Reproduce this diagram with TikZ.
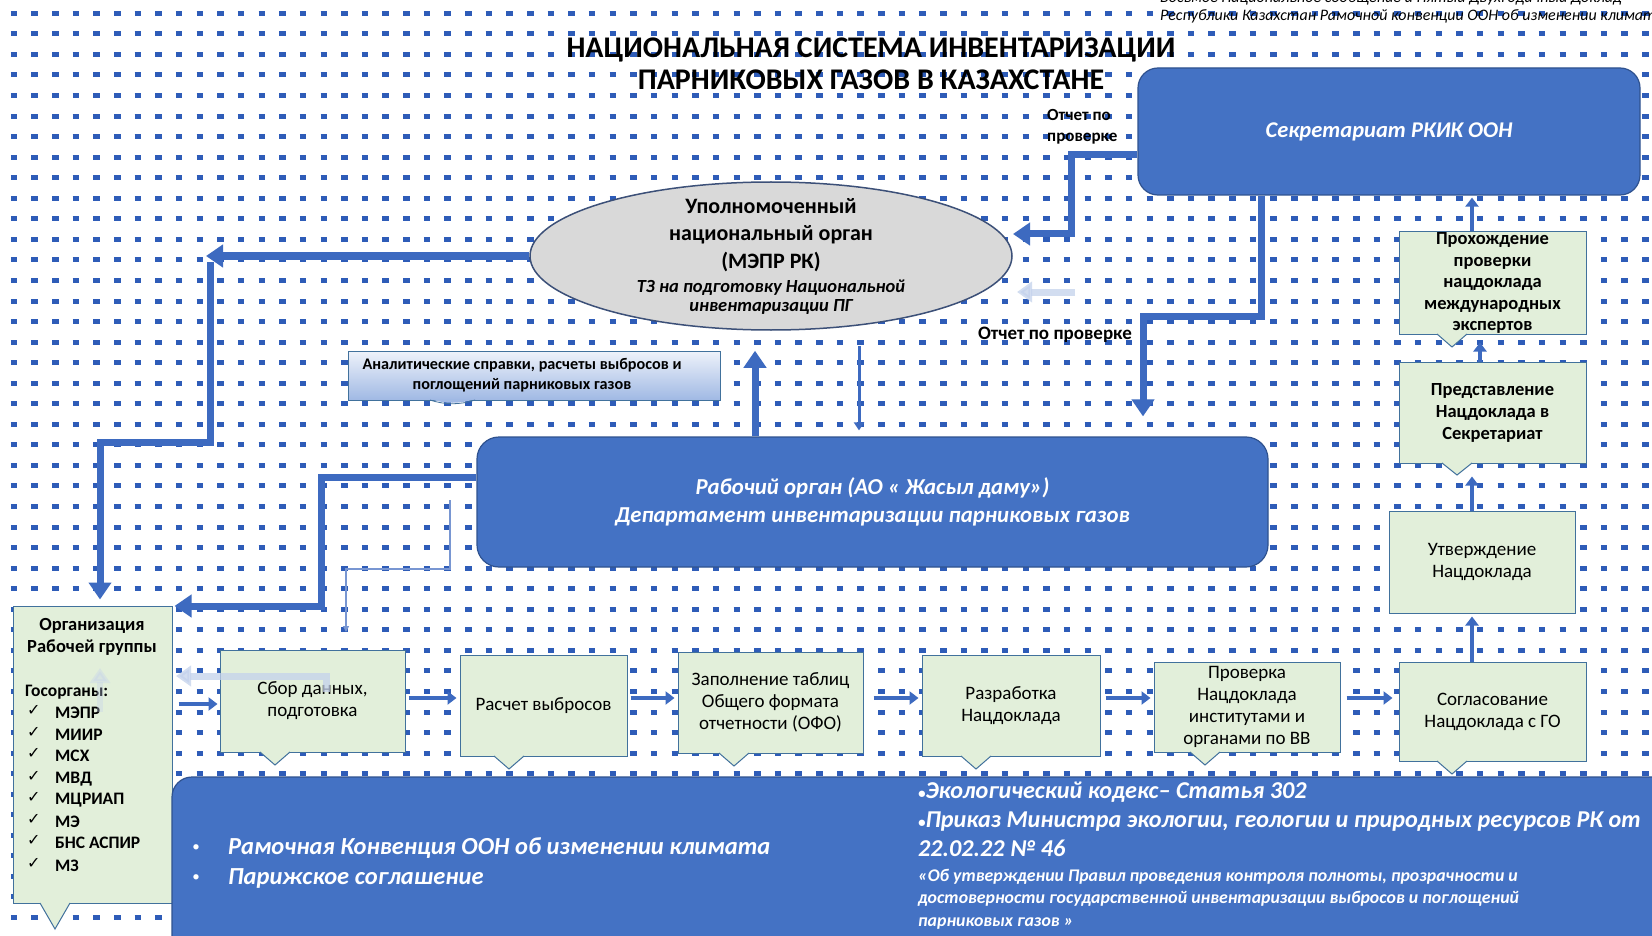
\documentclass[tikz,border=0pt]{standalone}
\usepackage{fontspec}
\setmainfont{Carlito}
\newfontfamily\dejavu{DejaVu Sans}
\usetikzlibrary{shapes.geometric,arrows.meta}
\definecolor{dotc}{RGB}{46,92,184}
\definecolor{bluef}{RGB}{68,114,196}
\definecolor{blueb}{RGB}{47,82,143}
\definecolor{greenf}{RGB}{226,239,218}
\definecolor{greenb}{RGB}{65,113,156}
\definecolor{ellf}{RGB}{217,217,217}
\definecolor{ellb}{RGB}{60,80,120}
\definecolor{arrc}{RGB}{61,106,192}
\definecolor{ghostc}{RGB}{196,210,236}
\definecolor{anatop}{RGB}{238,242,250}
\definecolor{anabot}{RGB}{160,185,228}
\definecolor{thinc}{RGB}{120,150,210}
\newcommand\fs[2]{\fontsize{#1}{#2}\selectfont}
\newcommand\smb{{\fs{15}{15}\textbullet}}
\newcommand\mknotch[4]{%
  \fill[greenf] (#1-#3,#2-1.5) -- (#1-#3,#2) -- (#1,#2+#4) -- (#1+#3,#2) -- (#1+#3,#2-1.5) -- cycle;
  \draw[greenb, line width=1pt] (#1-#3,#2) -- (#1,#2+#4) -- (#1+#3,#2);}
\tikzset{
  bluebox/.style={draw=blueb, line width=1.2pt, fill=bluef, rounded corners=18pt, text=white, align=center, inner sep=0pt},
  greenbox/.style={draw=greenb, line width=1pt, fill=greenf, align=center, inner sep=0pt, font=\fs{19}{22}},
  bigarrow/.style={draw=arrc, line width=7pt, -{Triangle[width=22pt,length=17pt]}},
  midarrow/.style={draw=arrc, line width=4.5pt, -{Triangle[width=13pt,length=9pt]}},
  ghostarrow/.style={draw=ghostc, line width=7pt, -{Triangle[width=20pt,length=15pt]}, opacity=0.75},
  thinarrow/.style={draw=thinc, line width=1.5pt, -{Triangle[width=6pt,length=6pt]}},
}
\begin{document}
\begin{tikzpicture}[x=1pt,y=-1pt]
\path[use as bounding box] (0,0) rectangle (1652,936);
\clip (0,0) rectangle (1652,936);
\fill[white] (0,0) rectangle (1652,936);
% dot grid
\foreach \j in {0,...,44}{
  \draw[dotc, line width=5pt, dash pattern=on 6.5pt off 14.15pt] (10.75,{13.3+20.55*\j}) -- (1660,{13.3+20.55*\j});
}
% helper coordinates
\coordinate (y155) at (0,155);
\coordinate (y477) at (0,477);
\coordinate (y606) at (0,606);
\coordinate (y704) at (0,704);
\coordinate (hy) at (0,698);
\coordinate (x755) at (755,0);
\coordinate (x859) at (859,0);
\coordinate (x1261) at (1261,0);
\coordinate (x1143) at (1143,0);
\coordinate (x1472) at (1472,0);
\coordinate (x1480) at (1480,0);
\coordinate (x100) at (100,0);

% header
\node[anchor=west, font=\itshape\fs{16}{18}, align=left, inner sep=0pt] (hdr) at (1160,7)
  {Восьмое Национальное сообщение и Пятый Двухгодичный Доклад\\Республики Казахстан Рамочной конвенции ООН об изменении климата};
% title
\node[font=\bfseries\fs{30}{32}, align=center, inner sep=0pt] (title) at (871,64)
  {НАЦИОНАЛЬНАЯ СИСТЕМА ИНВЕНТАРИЗАЦИИ\\ПАРНИКОВЫХ ГАЗОВ В КАЗАХСТАНЕ};

% Secretariat
\node[bluebox, rounded corners=20pt, minimum width=502pt, minimum height=127pt, font=\bfseries\itshape\fs{22.5}{25}] (sec) at (1389,131.5) {Секретариат РКИК ООН};

% Ellipse
\node[ellipse, draw=ellb, line width=1.5pt, fill=ellf, minimum width=482pt, minimum height=148pt, inner sep=0pt] (mepr) at (771,256) {};
\node[font=\bfseries\fs{22}{27.5}, align=center, inner sep=0pt] (meprt) at (771,235) {Уполномоченный\\национальный орган\\(МЭПР РК)};
\node[font=\bfseries\itshape\fs{18.5}{19.5}, align=center, inner sep=0pt] (meprs) at (771,297) {ТЗ на подготовку Национальной\\инвентаризации ПГ};

% Labels
\node[font=\bfseries\fs{17}{21}, inner sep=0pt, align=left, anchor=west] (rep1) at (1047,127) {Отчет по\\проверке};
\node[font=\bfseries\fs{19}{20}, inner sep=0pt] (rep2) at (1055,335) {Отчет по проверке};

% Working body
\node[bluebox, rounded corners=22pt, minimum width=791pt, minimum height=130pt, font=\bfseries\itshape\fs{22.8}{28}] (rab) at (872.5,502)
  {Рабочий орган (АО « Жасыл даму»)\\Департамент инвентаризации парниковых газов};

% Analytic box
\node[draw=greenb, line width=0.8pt, top color=anatop, bottom color=anabot, minimum width=372pt, minimum height=49pt, inner sep=0pt] (ana) at (534,375.5) {};
\fill[anabot] (430,399) .. controls (445,404) and (460,404) .. (475,399) -- cycle;
\draw[greenb, line width=0.8pt] (430,400) .. controls (445,405) and (460,405) .. (475,400);
\node[font=\bfseries\fs{16.2}{20}, align=center, inner sep=0pt] (anat) at (522,375.5) {Аналитические справки, расчеты выбросов и\\поглощений парниковых газов};

% Organization box
\node[greenbox, minimum width=159pt, minimum height=297pt] (org) at (92.5,754.5) {};
\mknotch{55}{903}{15}{26}
\node[font=\bfseries\fs{18.5}{22}, align=center, inner sep=0pt] (orgt) at (92,637) {Организация\\Рабочей группы};
\node[font=\bfseries\fs{17.5}{20}, anchor=west, inner sep=0pt] (gos) at (25,692) {Госорганы:};
\foreach \nm/\yy in {МЭПР/713, МИИР/735, МСХ/756, МВД/779, МЦРИАП/800, МЭ/822, БНС АСПИР/843, МЗ/866}{
  \node[font=\dejavu\fs{16}{18}, anchor=west, inner sep=0pt] at (27,\yy-3) {✓};
  \node[font=\bfseries\fs{17.5}{20}, anchor=west, inner sep=0pt] at (55,\yy) {\nm};
}

% process boxes
\node[greenbox, minimum width=185pt, minimum height=102pt] (sbor) at (312.5,701) {Сбор данных,\\подготовка};
\mknotch{275}{752}{15}{13}
\node[greenbox, minimum width=167pt, minimum height=101pt] (raschet) at (543.5,705.5) {Расчет выбросов};
\mknotch{509}{756}{15}{13}
\node[greenbox, minimum width=185pt, minimum height=101pt] (zapoln) at (770.5,702.5) {Заполнение таблиц\\Общего формата\\отчетности (ОФО)};
\mknotch{734}{753}{15}{13}
\node[greenbox, minimum width=178pt, minimum height=101pt] (razrab) at (1011,705.5) {Разработка\\Нацдоклада};
\mknotch{976}{756}{15}{13}
\node[greenbox, minimum width=186pt, minimum height=90pt] (prov) at (1247,707) {Проверка\\Нацдоклада\\институтами и\\органами по ВВ};
\mknotch{1205}{752}{15}{13}
\node[greenbox, minimum width=187pt, minimum height=99pt] (soglas) at (1492.5,711.5) {Согласование\\Нацдоклада с ГО};
\mknotch{1452}{761}{15}{13}
\node[greenbox, minimum width=186pt, minimum height=102pt] (utv) at (1482,562) {Утверждение\\Нацдоклада};
\node[greenbox, minimum width=187pt, minimum height=101pt, font=\bfseries\fs{18.5}{22}] (predst) at (1492.5,412.5) {Представление\\Нацдоклада в\\Секретариат};
\mknotch{1457}{463}{15}{12}
\node[greenbox, minimum width=187pt, minimum height=102pt, font=\bfseries\fs{18.5}{21.5}] (proh) at (1492.5,283) {Прохождение\\проверки\\нацдоклада\\международных\\экспертов};
\mknotch{1452}{334}{15}{13}

% ghost shapes
\draw[ghostarrow] (326,692) -- (326,676) -- (176,676);
\draw[ghostarrow, opacity=0.35, line width=6pt] (100,712) -- (100,668);
\draw[ghostarrow] (1075,292) -- (1017,292);

% bottom legal box
\node[bluebox, rounded corners=20pt, minimum width=1500pt, minimum height=180pt] (law) at (922,867) {};
\node[font=\bfseries\itshape\fs{24.5}{30}, text=white, anchor=west, align=left, inner sep=0pt] (lawl) at (228,863)
  {Рамочная Конвенция ООН об изменении климата\\Парижское соглашение};
\node[text=white, inner sep=0pt] (b1) at (196,848) {\smb};
\node[text=white, inner sep=0pt] (b2) at (196,878) {\smb};
\node[font=\bfseries\itshape\fs{24.2}{29}, text=white, anchor=west, align=left, inner sep=0pt] (lawr) at (918,819)
  {\smb Экологический кодекс– Статья 302\\\smb Приказ Министра экологии, геологии и природных ресурсов РК от\\22.02.22 № 46};
\node[font=\bfseries\itshape\fs{17.8}{22.5}, text=white, anchor=west, align=left, inner sep=0pt] (laws) at (918,899)
  {«Об утверждении Правил проведения контроля полноты, прозрачности и\\достоверности государственной инвентаризации выбросов и поглощений\\парниковых газов »};

% connectors
\draw[bigarrow] (sec.west |- y155) -- (1071,155) -- (1071,234) -- (1013,234);
\draw[bigarrow] (sec.south -| x1261) -- (1261,316) -- (1143,316) -- (rab.north -| x1143) [shorten >=20pt];
\draw[bigarrow, shorten >=20pt] (rab.north -| x755) -- (mepr.south -| x755);
\draw[draw=arrc, line width=3pt, -{Triangle[width=10pt,length=8pt]}, shorten <=15pt, shorten >=6pt] (mepr.south -| x859) -- (rab.north -| x859);
\draw[bigarrow] (mepr.west) -- (206,256);
\draw[bigarrow] (210,262) -- (210,442) -- (100,442) -- (org.north -| x100) [shorten >=6pt];
\draw[bigarrow, shorten >=2pt] (rab.west |- y477) -- (321,477) -- (321,606) -- (org.east |- y606);
\draw[thinarrow] (450,500) -- (450,569) -- (346,569) -- (346,632);
\draw[midarrow, shorten >=2pt, shorten <=6pt] (org.east |- y704) -- (sbor.west |- y704);
\draw[midarrow, shorten <=3pt, shorten >=3pt] (sbor.east |- hy) -- (raschet.west |- hy);
\draw[midarrow, shorten <=3pt, shorten >=3pt] (raschet.east |- hy) -- (zapoln.west |- hy);
\draw[midarrow, shorten <=10pt, shorten >=3pt] (zapoln.east |- hy) -- (razrab.west |- hy);
\draw[midarrow, shorten <=5pt, shorten >=3pt] (razrab.east |- hy) -- (prov.west |- hy);
\draw[midarrow, shorten <=6pt, shorten >=6pt] (prov.east |- hy) -- (soglas.west |- hy);
\draw[midarrow, shorten >=3pt] (soglas.north -| x1472) -- (utv.south -| x1472);
\draw[midarrow, shorten >=13pt] (utv.north -| x1472) -- (predst.south -| x1472);
\draw[midarrow, shorten >=8pt] (predst.north -| x1480) -- (proh.south -| x1480);
\draw[midarrow, shorten >=2pt] (proh.north -| x1472) -- (sec.south -| x1472);
\end{tikzpicture}
\end{document}
